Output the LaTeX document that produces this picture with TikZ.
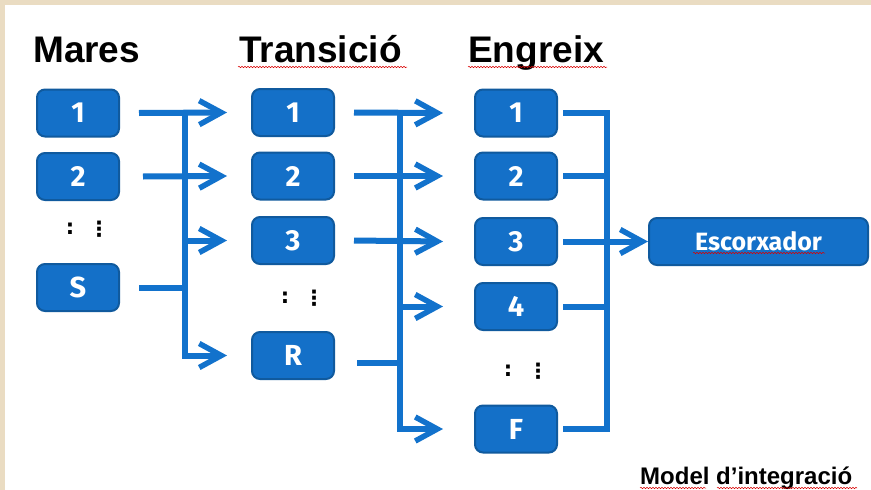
\documentclass[tikz,border=0pt]{standalone}
\usepackage{fontspec}
\setmainfont{Liberation Sans}
\newfontfamily\boxfont{Fira Sans}[BoldFont={* Bold}]
\newfontfamily\symfont{DejaVu Sans}
\usetikzlibrary{arrows.meta,decorations.pathmorphing}
\definecolor{boxblue}{HTML}{1470C8}
\definecolor{boxedge}{HTML}{105A9E}
\definecolor{arrblue}{HTML}{1272CC}
\definecolor{beige}{HTML}{EADCC2}
\begin{document}
\begin{tikzpicture}[x=1pt,y=-1pt,
  stagebox/.style={rectangle,rounded corners=8pt,fill=boxblue,draw=boxedge,line width=2pt,
    minimum width=82pt,minimum height=47pt,inner sep=0pt,text=white,
    font=\boxfont\bfseries\fontsize{29}{29}\selectfont},
  title/.style={anchor=base west,inner sep=0pt,font=\bfseries\fontsize{37}{37}\selectfont},
  conn/.style={draw=arrblue,line width=6pt,line join=miter},
  arr/.style={conn,-{Straight Barb[length=22pt,width=24pt,line width=5.5pt]}},
  dotsym/.style={inner sep=0pt,font=\symfont\bfseries\fontsize{21}{21}\selectfont},
  wavy/.style={draw=red!85!black,line width=0.5pt,decorate,decoration={snake,segment length=3pt,amplitude=0.7pt}}]
\useasboundingbox (0,0) rectangle (871,490);
\fill[white] (0,0) rectangle (871,490);
\fill[beige] (0,0) rectangle (871,5);
\fill[beige] (0,0) rectangle (5,490);

% titles
\node[title] (tMares) at (33,62) {Mares};
\node[title] (tTrans) at (239,62) {Transició};
\node[title] (tEngr) at (468,62) {Engreix};
\node[anchor=base west,inner sep=0pt,font=\bfseries\fontsize{24}{24}\selectfont] (tModel) at (640,484) {Model d’integració};

% Mares
\node[stagebox] (m1) at (78,113) {1};
\node[stagebox] (m2) at (78,176.5) {2};
\node[dotsym] (md1) at (70,229) {:};
\node[dotsym] (md2) at (99,229) {⋮};
\node[stagebox] (mS) at (78,287.5) {S};

% Transicio
\node[stagebox] (t1) at (293,112.5) {1};
\node[stagebox] (t2) at (293,176) {2};
\node[stagebox] (t3) at (293,240.5) {3};
\node[dotsym] (td1) at (285,298) {:};
\node[dotsym] (td2) at (314,298) {⋮};
\node[stagebox] (tR) at (293,355.5) {R};

% Engreix
\node[stagebox] (e1) at (516,113) {1};
\node[stagebox] (e2) at (516,176) {2};
\node[stagebox] (e3) at (516,241.5) {3};
\node[stagebox] (e4) at (516,306.5) {4};
\node[dotsym] (ed1) at (508,371) {:};
\node[dotsym] (ed2) at (538,371) {⋮};
\node[stagebox] (eF) at (516,429) {F};

% Escorxador
\node[stagebox,minimum width=219pt,font=\boxfont\bfseries\fontsize{25}{25}\selectfont] (esc) at (758.5,241.5) {Escorxador};

% trunk positions
\coordinate (k1) at (185,0);
\coordinate (k2) at (400,0);
\coordinate (k3) at (607,0);

% group 1: Mares -> Transicio
\draw[arr] ([xshift=19pt]m1.east) -- ([xshift=-24pt]t1.west);
\draw[arr] ([xshift=23pt]m2.east) -- ([xshift=-24pt]t2.west);
\draw[conn] ([xshift=19pt]mS.east) -- (mS.east -| k1);
\draw[arr] (t1.west -| k1) |- ([xshift=-24pt]tR.west);
\draw[arr] (t3.west -| k1) -- ([xshift=-24pt]t3.west);

% group 2: Transicio -> Engreix
\draw[arr] ([xshift=19pt]t1.east) -- ([xshift=-31pt]e1.west);
\draw[arr] ([xshift=19pt]t2.east) -- ([xshift=-31pt]e2.west);
\draw[arr] ([xshift=19pt]t3.east) -- ([xshift=-31pt]e3.west);
\draw[conn] ([xshift=22pt,yshift=-7pt]tR.east) -- ([yshift=-7pt]tR.east -| k2);
\draw[arr] (t1.east -| k2) |- ([xshift=-31pt]eF.west);
\draw[arr] (e4.west -| k2) -- ([xshift=-31pt]e4.west);

% group 3: Engreix -> Escorxador
\draw[conn] ([xshift=5pt]e1.east) -| (eF.east -| k3) -- ([xshift=5pt]eF.east);
\draw[conn] ([xshift=5pt]e2.east) -- (e2.east -| k3);
\draw[conn] ([xshift=5pt]e4.east) -- (e4.east -| k3);
\draw[arr] ([xshift=5pt]e3.east) -- (esc.west);

% spell-check underlines
\draw[wavy] (238,67) -- (407,67);
\draw[wavy] (468,67) -- (607,67);
\draw[wavy] (693,253) -- (825,253);
\draw[wavy] (640,488) -- (706,488);
\draw[wavy] (717,488) -- (857,488);
\end{tikzpicture}
\end{document}
